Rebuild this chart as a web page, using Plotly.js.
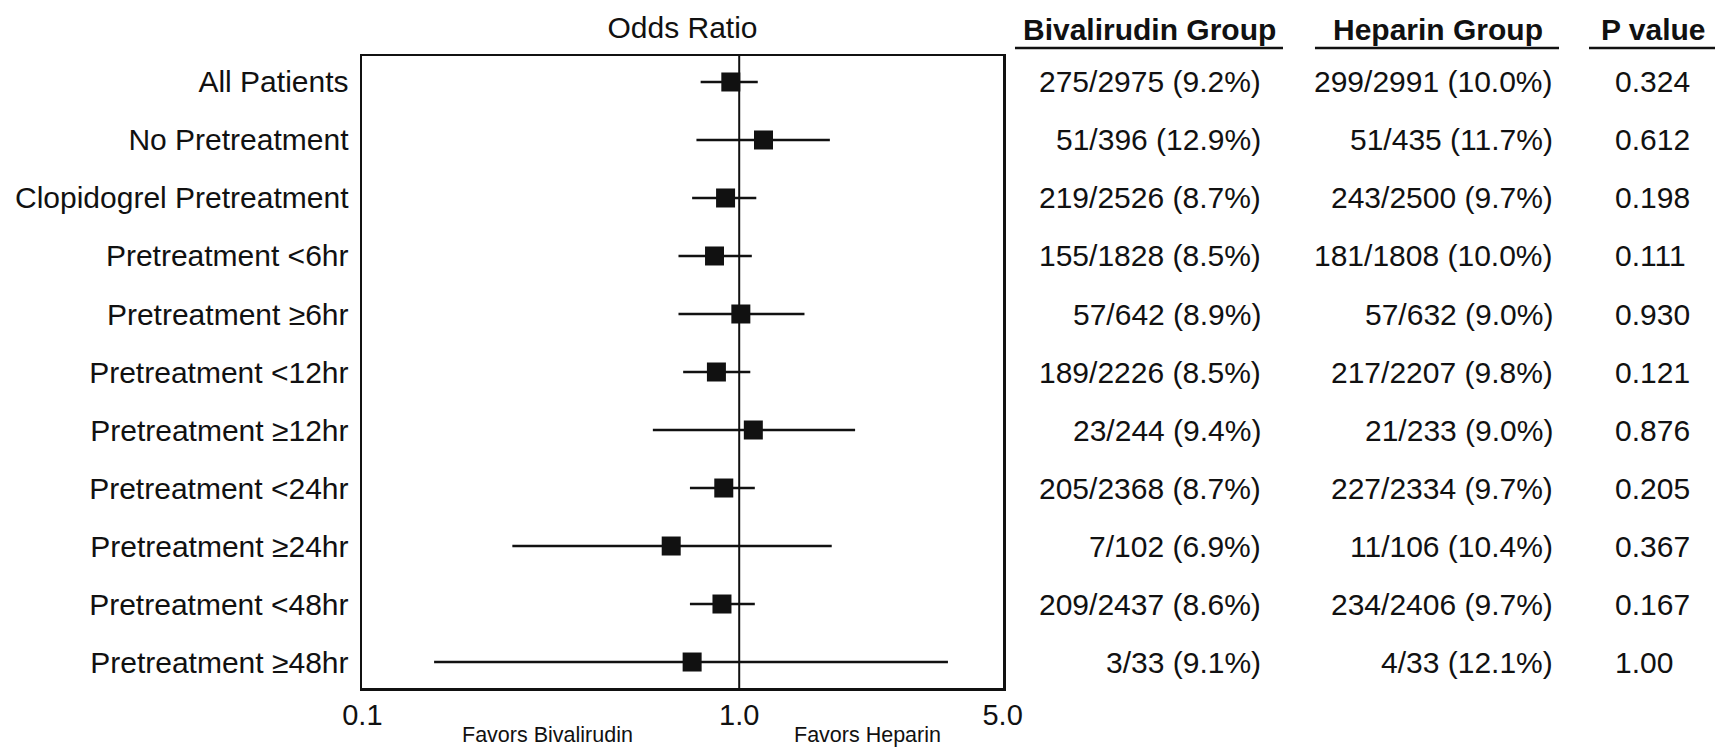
<!DOCTYPE html>
<html>
<head>
<meta charset="utf-8">
<script src="https://cdn.plot.ly/plotly-3.0.1.min.js"></script>
<style>html,body{margin:0;padding:0;background:#fff;}#chart{width:1715px;height:751px;}</style>
</head>
<body>
<div id="chart"></div>
<script>
// ---- data ----
const subgroups = ['All Patients', 'No Pretreatment', 'Clopidogrel Pretreatment', 'Pretreatment <6hr',
  'Pretreatment ≥6hr', 'Pretreatment <12hr', 'Pretreatment ≥12hr', 'Pretreatment <24hr',
  'Pretreatment ≥24hr', 'Pretreatment <48hr', 'Pretreatment ≥48hr'];
const oddsRatio = [0.95, 1.16, 0.92, 0.86, 1.01, 0.87, 1.09, 0.91, 0.66, 0.90, 0.75];
const ciLower   = [0.79, 0.77, 0.75, 0.69, 0.69, 0.71, 0.59, 0.74, 0.25, 0.74, 0.155];
const ciUpper   = [1.12, 1.74, 1.11, 1.08, 1.49, 1.07, 2.03, 1.10, 1.76, 1.10, 3.58];
const bivEvents = [275, 51, 219, 155, 57, 189, 23, 205, 7, 209, 3];
const bivTotal  = [2975, 396, 2526, 1828, 642, 2226, 244, 2368, 102, 2437, 33];
const bivPct    = ['9.2', '12.9', '8.7', '8.5', '8.9', '8.5', '9.4', '8.7', '6.9', '8.6', '9.1'];
const hepEvents = [299, 51, 243, 181, 57, 217, 21, 227, 11, 234, 4];
const hepTotal  = [2991, 435, 2500, 1808, 632, 2207, 233, 2334, 106, 2406, 33];
const hepPct    = ['10.0', '11.7', '9.7', '10.0', '9.0', '9.8', '9.0', '9.7', '10.4', '9.7', '12.1'];
const pValues   = ['0.324', '0.612', '0.198', '0.111', '0.930', '0.121', '0.876', '0.205', '0.367', '0.167', '1.00'];
const xTickVals = [0.1, 1, 5];
const xTickText = ['0.1', '1.0', '5.0'];
const columnHeaders = ['Bivalirudin Group', 'Heparin Group', 'P value'];
const favorsLabels = ['Favors Bivalirudin', 'Favors Heparin'];

// ---- build ----
const FONT = '"Liberation Sans", Arial, Helvetica, sans-serif';
const INK = '#111';
const rows = subgroups.map((_, i) => i);

const trace = {
  type: 'scatter', mode: 'markers',
  x: oddsRatio, y: rows,
  marker: {symbol: 'square', size: 19, color: INK},
  error_x: {
    type: 'data', symmetric: false,
    array: oddsRatio.map((v, i) => ciUpper[i] - v),
    arrayminus: oddsRatio.map((v, i) => v - ciLower[i]),
    width: 0, thickness: 2.5, color: INK
  },
  hoverinfo: 'skip'
};

const annotations = [];
rows.forEach(i => {
  annotations.push({xref: 'paper', yref: 'y', x: 1.4056, y: i, xanchor: 'right', yanchor: 'middle',
    text: bivEvents[i] + '/' + bivTotal[i] + ' (' + bivPct[i] + '%)', showarrow: false, font: {size: 30, color: INK}});
  annotations.push({xref: 'paper', yref: 'y', x: 1.8619, y: i, xanchor: 'right', yanchor: 'middle',
    text: hepEvents[i] + '/' + hepTotal[i] + ' (' + hepPct[i] + '%)', showarrow: false, font: {size: 30, color: INK}});
  annotations.push({xref: 'paper', yref: 'y', x: 1.9516, y: i, xanchor: 'left', yanchor: 'middle',
    text: pValues[i], showarrow: false, font: {size: 30, color: INK}});
});
const headerX = [1.2293, 1.6794, 2.0150];
columnHeaders.forEach((h, k) => {
  annotations.push({xref: 'paper', yref: 'paper', x: headerX[k], y: 1.042, xanchor: 'center', yanchor: 'middle',
    text: '<b>' + h + '</b>', showarrow: false, font: {size: 30, color: INK}});
});
const favorsX = [0.2894, 0.788];
favorsLabels.forEach((t, k) => {
  annotations.push({xref: 'paper', yref: 'paper', x: favorsX[k], y: -0.074, xanchor: 'center', yanchor: 'middle',
    text: t, showarrow: false, font: {size: 21.5, color: INK}});
});

const underlines = [[1.0187, 1.4368], [1.4867, 1.8674], [1.9142, 2.12]];
const shapes = [{type: 'line', xref: 'x', yref: 'paper', x0: 1, x1: 1, y0: 0, y1: 1, layer: 'below',
  line: {color: INK, width: 2}}];
underlines.forEach(u => shapes.push({type: 'line', xref: 'paper', yref: 'paper', x0: u[0], x1: u[1],
  y0: 1.0127, y1: 1.0127, line: {color: INK, width: 2.5}}));

const layout = {
  width: 1715, height: 751,
  margin: {l: 362, r: 712, t: 56, b: 63, pad: 0},
  paper_bgcolor: '#fff', plot_bgcolor: '#fff',
  showlegend: false,
  font: {family: FONT, size: 30, color: INK},
  title: {text: 'Odds Ratio', xref: 'paper', x: 0.5, xanchor: 'center',
    yref: 'container', y: 1 - 27 / 751, yanchor: 'middle', font: {size: 30, color: INK}},
  xaxis: {type: 'log', range: [-1.001, 0.7], tickvals: xTickVals, ticktext: xTickText,
    showgrid: false, zeroline: false, showline: true, mirror: true, linecolor: INK, linewidth: 2.5,
    ticks: '', ticklabelstandoff: 0, tickfont: {size: 29, color: INK}, fixedrange: true},
  yaxis: {range: [10.448, -0.448], tickvals: rows, ticktext: subgroups,
    showgrid: false, zeroline: false, showline: true, mirror: true, linecolor: INK, linewidth: 2.5,
    ticks: '', ticklabelstandoff: 5, tickfont: {size: 30, color: INK}, fixedrange: true},
  shapes: shapes,
  annotations: annotations
};

Plotly.newPlot('chart', [trace], layout, {displayModeBar: false, staticPlot: true});
</script>
</body>
</html>
